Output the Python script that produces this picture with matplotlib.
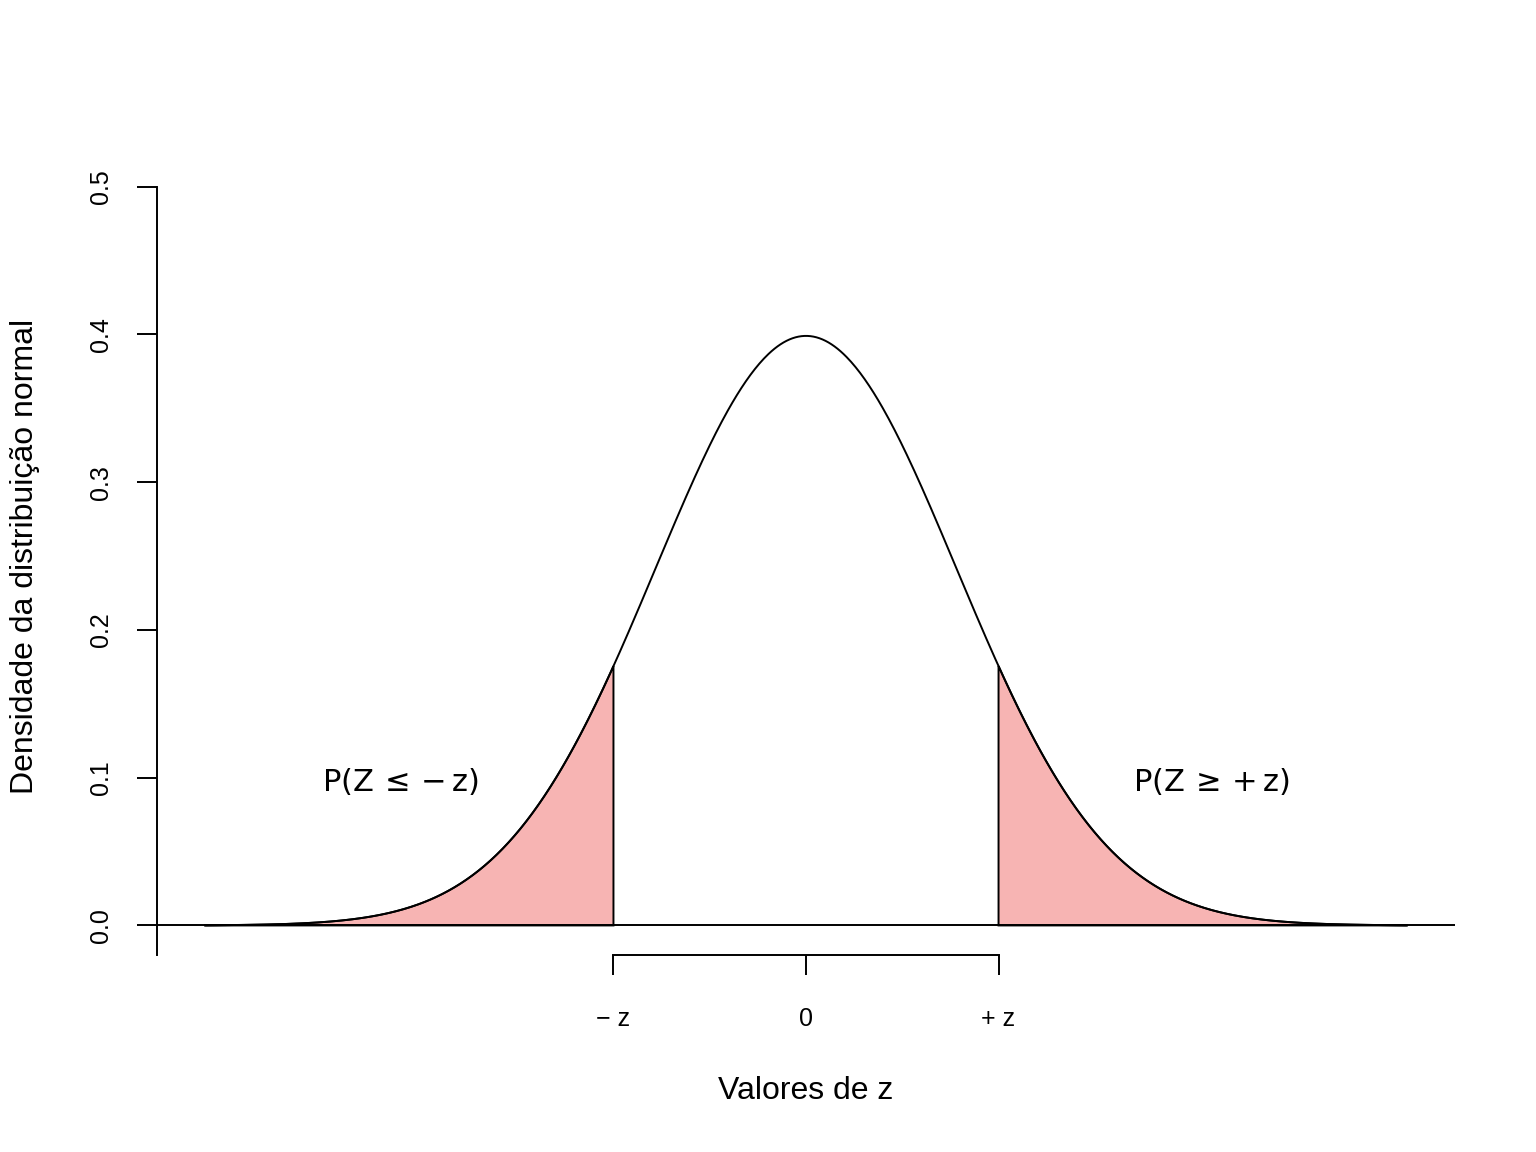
import matplotlib
matplotlib.use('Agg')
import numpy as np
import matplotlib.pyplot as plt

# dados da curva normal padrao
z_crit = 1.2816          # quantil de 10% em cada cauda
x_min, x_max = -4.0, 4.0
y_ticks = [0.0, 0.1, 0.2, 0.3, 0.4, 0.5]
y_tick_labels = ["0.0", "0.1", "0.2", "0.3", "0.4", "0.5"]
x_ticks = [-z_crit, 0.0, z_crit]
x_tick_labels = ["\u2212 z", "0", "+ z"]
label_left = r"$\mathrm{P}\left(\mathrm{Z}\,\leq\,{-}\,\mathrm{z}\right)$"
label_right = r"$\mathrm{P}\left(\mathrm{Z}\,\geq\,{+}\,\mathrm{z}\right)$"


def dnorm(x):
    return np.exp(-x ** 2 / 2) / np.sqrt(2 * np.pi)


plt.rcParams['font.family'] = ['Liberation Sans', 'DejaVu Sans']
plt.rcParams['mathtext.fontset'] = 'dejavusans'

W, H = 1536, 1152
fig = plt.figure(figsize=(W / 100, H / 100), dpi=100)
ax = fig.add_axes([157 / W, 1 - 955 / H, (1455 - 157) / W, (955 - 157) / H])

xs = np.linspace(x_min, x_max, 801)
ax.plot(xs, dnorm(xs), color='black', lw=1.4, zorder=3)
ax.axhline(0, color='black', lw=1.4, zorder=3)

# caudas sombreadas
fill_col = '#F7B4B3'
xl = np.linspace(x_min, -z_crit, 300)
ax.fill(np.r_[xl, -z_crit, x_min], np.r_[dnorm(xl), 0, 0],
        facecolor=fill_col, edgecolor='black', lw=1.4, zorder=2)
xr = np.linspace(z_crit, x_max, 300)
ax.fill(np.r_[z_crit, xr, x_max], np.r_[0, dnorm(xr), 0],
        facecolor=fill_col, edgecolor='black', lw=1.4, zorder=2)

ax.set_xlim(-4.32, 4.32)
ax.set_ylim(-0.02, 0.52)

for s in ['top', 'right']:
    ax.spines[s].set_visible(False)
ax.spines['left'].set_bounds(-0.02, 0.5)
ax.spines['bottom'].set_bounds(-z_crit, z_crit)
for s in ['left', 'bottom']:
    ax.spines[s].set_linewidth(1.4)

ax.set_yticks(y_ticks)
ax.set_yticklabels(y_tick_labels, rotation=90, va='center')
ax.set_xticks(x_ticks)
ax.set_xticklabels(x_tick_labels)
ax.tick_params(axis='both', length=14.4, width=1.4, labelsize=18)
ax.tick_params(axis='y', pad=17)
ax.tick_params(axis='x', pad=23)

ax.text(-2.7, 0.097, label_left, fontsize=22, ha='center', va='center')
ax.text(2.7, 0.097, label_right, fontsize=22, ha='center', va='center')

fig.text(806 / W, 1 - 1091 / H, "Valores de z", fontsize=23,
         ha='center', va='center')
fig.text(25 / W, 1 - 556 / H, "Densidade da distribuição normal", fontsize=23,
         ha='center', va='center', rotation=90)

fig.savefig('out.png', dpi=100)
